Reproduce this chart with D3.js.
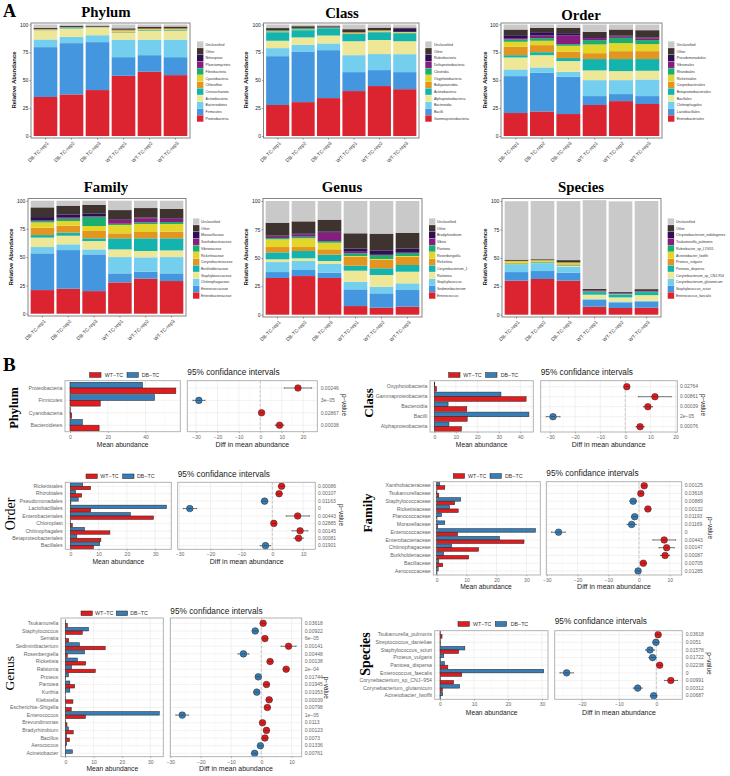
<!DOCTYPE html>
<html>
<head>
<meta charset="utf-8">
<script src="https://cdn.jsdelivr.net/npm/d3@7"></script>
<style>
html,body{margin:0;padding:0;background:#fff;}
svg{display:block;}
text{font-family:"Liberation Sans",Arial,sans-serif;}
</style>
</head>
<body>
<svg id="chart" width="730" height="776"></svg>
<script>
// ---------- DATA: panel A (stacked relative abundance, bottom series first) ----------
const sampleLabels = ["DB-TC-rep1","DB-TC-rep2","DB-TC-rep3","WT-TC-rep1","WT-TC-rep2","WT-TC-rep3"];
const abundanceTicks = [0,25,50,75,100];

const phylumTaxa = ["Proteobacteria","Firmicutes","Bacteroidetes","Actinobacteria","Crenarchaeota","Chloroflexi","Cyanobacteria","Fibrobacteria","Planctomycetes","Nitrospirae","Other","Unclassified"];
const phylumValues = [
 [35,44.7,6.9,8.1,.2,.6,.2,.1,.1,.1,1,3],
 [37.3,46,5.7,7.4,.9,.1,.1,.1,.1,.1,1.1,1.2],
 [41.2,43,6.2,6.9,.2,.1,.1,.1,.1,.1,.9,1.2],
 [54,16.7,15.8,6,.4,.8,1,.2,.2,.3,1.2,3.4],
 [57.6,14.9,14,7.8,.6,.6,.6,.1,.1,.1,1.7,1.9],
 [54.6,16.1,15.8,7.8,.6,.7,.6,.1,.1,.1,1.7,1.8]];

const classTaxa = ["Gammaproteobacteria","Bacilli","Bacteroidia","Alphaproteobacteria","Actinobacteria","Babyanaerobia","Oxyphotobacteria","Clostridia","Deltaproteobacteria","Rubrobacteria","Other","Unclassified"];
const classValues = [
 [27.8,43.8,7.2,6.6,7.7,.1,.6,.8,.1,.2,1.9,3.2],
 [30.4,45.4,6,6.6,6.5,.1,.5,1.2,.1,.1,1.6,1.5],
 [34,43,6,7.1,6.6,.1,.2,.1,.1,.2,1.1,1.5],
 [40.3,17,15.2,12.5,6.6,.6,.6,.1,.1,.2,2.6,4.2],
 [44.8,14.3,14.4,12.6,7,.6,.7,.3,.1,.1,2.3,2.8],
 [42,15.3,16.1,11.6,7.2,.5,.5,.1,.1,2.7,1.2,2.7]];

const orderTaxa = ["Enterobacteriales","Lactobacillales","Chitinophagales","Bacillales","Betaproteobacteriales","Corynebacteriales","Rickettsiales","Rhizobiales","Vibrionales","Pseudomonadales","Other","Unclassified"];
const orderValues = [
 [20.6,33.1,6,10.7,2.1,7.5,4.5,2.1,1.2,2.6,5.1,4.5],
 [22,34.7,4.8,11,2.7,6.3,3.9,2.4,2.3,3,3.9,3],
 [19.7,33.4,4.5,9.6,2.7,5.6,5.4,1.5,7.7,2.1,4.8,3],
 [27.8,8,14.3,8.7,10.2,5.3,7.8,3.9,1.8,.9,4.7,6.6],
 [31.3,6.3,12.5,8.1,10.8,7.1,7.2,4.7,1.2,.7,5.6,4.5],
 [28.7,7.1,14.9,7.8,10.5,7.1,6.3,3.6,1.5,.9,6.5,5.1]];

const familyTaxa = ["Enterobacteriaceae","Enterococcaceae","Chitinophagaceae","Staphylococcaceae","Burkholderiaceae","Corynebacteriaceae","Rickettsiaceae","Vibrionaceae","Xanthobacteraceae","Moraxellaceae","Other","Unclassified"];
const familyValues = [
 [20.9,32.5,5.6,8.3,2.3,6.5,4.7,1.2,.6,2.9,8.6,5.9],
 [22.1,34.2,5.1,7.6,2.7,6.2,4.1,2.1,.9,2.9,7.7,4.4],
 [20,32.5,4.4,7.4,2.4,6.5,4.4,8.2,.6,2.4,7.4,3.8],
 [27.7,8,14.4,6.8,9.8,4.4,7.4,1.1,3.3,.6,8.2,8.3],
 [31,6.2,12.7,5.6,11.2,5.6,7.1,1.4,3.6,.6,8.5,6.5],
 [28.9,6.8,14.4,5.9,10.7,5.9,6.8,1.7,2.7,.6,8.5,7.1]];

const genusTaxa = ["Enterococcus","Sediminibacterium","Staphylococcus","Ralstonia","Corynebacterium_1","Rickettsia","Rosenbergiella","Pantoea","Vibrio","Bradyrhizobium","Other","Unclassified"];
const genusValues = [
 [32.3,5.2,8.8,2.4,6.1,4.7,6.8,1.1,1.2,.9,11.4,19.1],
 [34,5.3,7.9,2.4,6.4,3.5,7.7,1.4,1.8,1.2,10.5,17.9],
 [32.3,4.7,7.6,2.6,5.6,4.7,5.8,1.5,7.3,1.2,10.3,16.4],
 [7.6,14.7,6.7,9.7,4.4,7.9,.6,2.4,1.4,2.7,13.5,28.4],
 [6.2,12.6,5.8,10.3,5.9,7.6,.6,3.5,.9,3.2,14.7,28.7],
 [7,14.7,5.9,10.2,5.9,7.3,.6,2.7,.8,3,14,27.9]];

const speciesTaxa = ["Enterococcus_faecalis","Staphylococcus_sciuri","Corynebacterium_glutamicum","Corynebacterium_sp_CNJ-954","Pantoea_dispersa","Proteus_vulgaris","Acinetobacter_lwoffii","Rubrobacter_sp_LYG55","Tsukamurella_pulmonis","Chryseobacterium_indologenes","Other","Unclassified"];
const speciesValues = [
 [29.9,7.6,6.2,.5,.7,.7,1.5,.1,.1,.1,1,51.4],
 [31.4,7,6.2,.5,1,.6,1.1,.1,.1,.1,.7,51.2],
 [29.9,7,5.3,.6,.6,.9,1.5,.1,.1,.1,1.9,51.9],
 [7,6.2,.6,3.8,2.3,.2,.1,.2,.3,.5,1.5,78],
 [5.9,5,.7,3.6,2.7,.2,.1,.2,.4,.4,.9,79.6],
 [6.2,5.5,.6,4.9,2.7,.2,.1,.1,.2,.4,1.6,77.5]];

// ---------- DATA: panel B (mean abundance and difference in means) ----------
const phylumBTaxa = ["Proteobacteria","Firmicutes","Cyanobacteria","Bacteroidetes"];
const phylumBDb = [38.3,44.7,.2,6.5];
const phylumBWt = [56,16,.9,15.4];
const phylumBDiff = [17.6,-28.7,.6,9];
const phylumBLow = [11.2,-31.5,-.2,7];
const phylumBHigh = [24,-25.8,1.4,11];
const phylumBP = ["0.00246","3e−05","0.02867","0.00038"];

const classBTaxa = ["Oxyphotobacteria","Gammaproteobacteria","Bacteroidia","Bacilli","Alphaproteobacteria"];
const classBDb = [.2,31,6.4,44,6.8];
const classBWt = [1,42.7,15.1,15.3,12.6];
const classBDiff = [.6,11.8,9,-28.8,5.9];
const classBLow = [-.2,5.2,7.2,-31.5,4.3];
const classBHigh = [1.4,18.3,10.8,-26,7.5];
const classBP = ["0.02764","0.00861","0.00039","2e−05","0.00076"];

const orderBTaxa = ["Rickettsiales","Rhizobiales","Pseudomonadales","Lactobacillales","Enterobacteriales","Chloroplast","Chitinophagales","Betaproteobacteriales","Bacillales"];
const orderBDb = [4.4,1.9,2.8,34,21.2,.1,5,2.3,10.4];
const orderBWt = [7.2,4,.2,7.2,29.4,.7,14,10.8,8.2];
const orderBDiff = [3,2.2,-2.5,-26.7,8.2,.5,9,8.5,-2.2];
const orderBLow = [2,1.2,-3.6,-28.8,4.5,-.2,6.4,7,-3.9];
const orderBHigh = [4,3.2,-1.4,-24.5,12,1.2,11.5,10,-.5];
const orderBP = ["0.00086","0.00107","0.01163","0","0.00443","0.02885","0.00145","0.00081","0.01901"];

const familyBTaxa = ["Xanthobacteraceae","Tsukamurellaceae","Staphylococcaceae","Rickettsiaceae","Planococcaceae","Moraxellaceae","Enterococcaceae","Enterobacteriaceae","Chitinophagaceae","Burkholderiaceae","Bacillaceae","Aerococcaceae"];
const familyBDb = [1,.1,8,4.3,1.6,2.7,33,21,5,2.3,.7,.5];
const familyBWt = [2.7,.7,6,7.2,.1,.3,7,29.2,14,10.7,2,.1];
const familyBDiff = [1.7,.6,-1.9,2.9,-1.4,-2.4,-26.2,8.2,9,8.5,1.4,-.3];
const familyBLow = [.9,-.1,-3,1.9,-2.4,-3.9,-28.5,4.5,6.5,7,.4,-1];
const familyBHigh = [2.5,1.3,-.8,3.9,-.4,-.9,-24,11.9,11.5,10,2.4,.4];
const familyBP = ["0.00125","0.03618","0.00889","0.00132","0.01193","0.01169","0","0.00443","0.00147","0.00087","0.00705","0.01285"];

const genusBTaxa = ["Tsukamurella","Staphylococcus","Serratia","Sediminibacterium","Rosenbergiella","Rickettsia","Ralstonia","Proteus","Pantoea","Kurthia","Klebsiella","Escherichia−Shigella","Enterococcus","Brevundimonas","Bradyrhizobium","Bacillus","Aerococcus","Acinetobacter"];
const genusBDb = [.1,8.2,.1,5,6.8,4.3,2.2,1.1,1.6,1.6,.1,.1,33.2,.1,1.1,.4,.5,2.5];
const genusBWt = [.7,6,1.2,14.1,.7,7.2,10.6,.1,3.3,.1,2.7,2.1,7.1,.6,2.8,1.5,.1,.1];
const genusBDiff = [.6,-2,1.2,9,-5.9,2.9,8.2,-1,1.7,-1.5,2.6,2,-26.1,.4,1.7,1.2,-.3,-2.2];
const genusBLow = [-.1,-3,.5,6.5,-7.7,1.9,7.2,-1.9,.7,-2.4,1.6,1,-28.2,-.4,.8,.2,-1.2,-3.2];
const genusBHigh = [1.3,-1,1.9,11.5,-4.1,3.9,9.2,-.1,2.7,-.6,3.6,3,-24,1.2,2.6,2.2,.6,-1.2];
const genusBP = ["0.03618","0.00922","6e−05","0.00141","0.00448","0.00138","2e−04","0.01744","0.01945","0.01053","0.00039","0.00798","1e−05","0.0113","0.00123","0.0073","0.01336","0.00761"];

const speciesBTaxa = ["Tsukamurella_pulmonis","Streptococcus_danieliae","Staphylococcus_sciuri","Proteus_vulgaris","Pantoea_dispersa","Enterococcus_faecalis","Corynebacterium_sp_CNJ−954","Corynebacterium_glutamicum","Acinetobacter_lwoffii"];
const speciesBDb = [.1,.1,7.3,1.1,1.3,30.5,.1,5.8,.8];
const speciesBWt = [.6,.1,5.5,.1,2.3,6.4,4,.7,.1];
const speciesBDiff = [.5,-.1,-1.7,-1,.9,-24.1,3.9,-5,-.7];
const speciesBLow = [-.2,-.9,-2.9,-2,.1,-25.9,2.2,-6.2,-1.6];
const speciesBHigh = [1.2,.7,-.5,0,1.7,-22.3,5.7,-3.8,.2];
const speciesBP = ["0.03618","0.0051","0.01578","0.01722","0.02238","0","0.00991","0.00312","0.00687"];

// ---------- STYLE ----------
const stackColors = ["#DC2430","#4496DE","#74CEEE","#EEE896","#14B4AE","#E2951F","#E3D62A","#1BAE6F","#871D7E","#2E0F55","#3E332F","#C9C9C9"];
const wtColor = "#E41A1C", dbColor = "#377EB8";
const serif = '"Liberation Serif","Times New Roman",serif';
const svg = d3.select("#chart");

function txt(x,y,s,size,opt={}){
  const t = svg.append("text").attr("x",x).attr("y",y).text(s)
    .attr("font-size",size).attr("fill",opt.fill||"#000")
    .attr("text-anchor",opt.anchor||"start");
  if(opt.bold) t.attr("font-weight","bold");
  if(opt.serif) t.style("font-family",serif);
  if(opt.rot!==undefined) t.attr("transform",`rotate(${opt.rot} ${x} ${y})`);
  return t;
}

txt(3,16.5,"A",18,{bold:true,serif:true});
txt(3,371,"B",19,{bold:true,serif:true});

// ---------- PANEL A ----------
const stackPanels = [
 {title:"Phylum",taxa:phylumTaxa,values:phylumValues,l:31,r:190,t:23,b:138,y100:24.5,y0:136,tx:106,ty:17,yt:16,ycy:80,lsw:197,ltx:205.6,lt:44.7},
 {title:"Class",taxa:classTaxa,values:classValues,l:263.5,r:419,t:23,b:138,y100:24.5,y0:136,tx:342,ty:18,yt:248,ycy:80,lsw:425.3,ltx:434,lt:44.7},
 {title:"Order",taxa:orderTaxa,values:orderValues,l:501,r:662,t:23,b:138,y100:24.5,y0:136,tx:581,ty:20,yt:487,ycy:80,lsw:668,ltx:676.7,lt:44.7},
 {title:"Family",taxa:familyTaxa,values:familyValues,l:28,r:186,t:198.5,b:316,y100:200.7,y0:313.7,tx:106,ty:192,yt:13,ycy:257,lsw:193,ltx:201,lt:221.7},
 {title:"Genus",taxa:genusTaxa,values:genusValues,l:263,r:422,t:198.5,b:317,y100:201,y0:314.7,tx:342,ty:192,yt:248,ycy:257,lsw:429,ltx:437,lt:221.7},
 {title:"Species",taxa:speciesTaxa,values:speciesValues,l:502,r:661,t:198.5,b:317,y100:201,y0:314.7,tx:581,ty:192,yt:487,ycy:257,lsw:667.7,ltx:676,lt:221.7}
];

stackPanels.forEach(p=>{
  const x = d3.scaleBand().domain(sampleLabels).range([p.l+1.5,p.r-1.5]).paddingInner(0.09).paddingOuter(0.045);
  const y = d3.scaleLinear().domain([0,100]).range([p.y0,p.y100]);
  const keys = d3.range(p.taxa.length);
  const series = d3.stack().keys(keys).value((row,k)=>row[k])(p.values);
  series.forEach((s,k)=>{
    svg.append("g").selectAll("rect").data(s).join("rect")
      .attr("x",(d,i)=>x(sampleLabels[i])).attr("width",x.bandwidth())
      .attr("y",d=>y(d[1])).attr("height",d=>Math.max(0,y(d[0])-y(d[1])))
      .attr("fill",stackColors[k]);
  });
  svg.append("rect").attr("x",p.l).attr("y",p.t).attr("width",p.r-p.l).attr("height",p.b-p.t)
    .attr("fill","none").attr("stroke","#858585").attr("stroke-width",1);

  const ay = svg.append("g").attr("transform",`translate(${p.l},0)`)
    .call(d3.axisLeft(y).tickValues(abundanceTicks).tickSize(1.6).tickPadding(1));
  ay.select(".domain").remove();
  ay.selectAll("line").attr("stroke","#444").attr("stroke-width",.5);
  ay.selectAll("text").attr("font-size",5).attr("fill","#222").style("font-family",'"Liberation Sans",Arial');

  const ax = svg.append("g").attr("transform",`translate(0,${p.b})`)
    .call(d3.axisBottom(x).tickSize(1.6).tickPadding(2));
  ax.select(".domain").remove();
  ax.selectAll("line").attr("stroke","#444").attr("stroke-width",.5);
  ax.selectAll("text").attr("font-size",5).attr("fill","#333").style("font-family",'"Liberation Sans",Arial')
    .attr("text-anchor","end").attr("dy",0).attr("transform","translate(1,3) rotate(-45)");

  txt(p.tx,p.ty,p.title,14.8,{bold:true,serif:true,anchor:"middle"});
  txt(p.yt,p.ycy,"Relative Abundance",6,{bold:true,anchor:"middle",rot:-90,fill:"#111"});

  const rows = [...p.taxa].reverse();
  const ly = d3.scalePoint().domain(rows).range([p.lt,p.lt+11*6.72]);
  rows.forEach((name)=>{
    const k = p.taxa.indexOf(name);
    svg.append("rect").attr("x",p.lsw).attr("y",ly(name)-3.3).attr("width",6.4).attr("height",6.4).attr("fill",stackColors[k]);
    txt(p.ltx,ly(name)+1.3,name,3.5,{fill:"#333"});
  });
});

// ---------- PANEL B ----------
const diffPanels = [
 {label:"Phylum",taxa:phylumBTaxa,db:phylumBDb,wt:phylumBWt,diff:phylumBDiff,lo:phylumBLow,hi:phylumBHigh,pv:phylumBP,
  top:380.7,bot:431.7,c0:388,step:12.4,
  bl:65,br:180.3,bz:70,bu:1.89,bticks:[0,20,40],
  dl:187.3,dr:317.3,dz:260.3,du:2.14,dticks:[-30,-20,-10,0,10,20],
  px:320.7,pvx:342,pvy:405,lx:17.5,ly:408,lbold:true,lsize:12.5,
  sw1:89.7,t1:104.7,sw2:127,t2:141.7,legy:375,ty:375,mx:122.7,dx:252.3,axy:446.7,ticky:438},
 {label:"Class",taxa:classBTaxa,db:classBDb,wt:classBWt,diff:classBDiff,lo:classBLow,hi:classBHigh,pv:classBP,
  top:380.7,bot:432,c0:386.7,step:10,
  bl:430,br:533.3,bz:434.3,bu:2.15,bticks:[0,10,20,30,40],
  dl:540.7,dr:677.3,dz:625.3,du:2.51,dticks:[-30,-20,-10,0,10,20],
  px:680,pvx:701,pvy:405,lx:373,ly:403,lbold:true,lsize:13,
  sw1:448.7,t1:463.3,sw2:485.7,t2:500.7,legy:375,ty:375,mx:481.7,dx:608.7,axy:446.7,ticky:438},
 {label:"Order",taxa:orderBTaxa,db:orderBDb,wt:orderBWt,diff:orderBDiff,lo:orderBLow,hi:orderBHigh,pv:orderBP,
  top:482.3,bot:549.3,c0:486.3,step:7.42,
  bl:65.3,br:171.3,bz:70.3,bu:2.83,bticks:[0,10,20,30],
  dl:177.7,dr:315.3,dz:272.3,du:3.09,dticks:[-30,-20,-10,0,10],
  px:318,pvx:339,pvy:515,lx:15,ly:514,lbold:false,lsize:14,
  sw1:86,t1:100.3,sw2:122.7,t2:137,legy:476.3,ty:476.7,mx:118.3,dx:246.7,axy:563.7,ticky:555},
 {label:"Family",taxa:familyBTaxa,db:familyBDb,wt:familyBWt,diff:familyBDiff,lo:familyBLow,hi:familyBHigh,pv:familyBP,
  top:481.7,bot:575,c0:485.7,step:7.75,
  bl:433.3,br:540.3,bz:436.7,bu:2.99,bticks:[0,10,20,30],
  dl:546.3,dr:681.7,dz:639,du:3.07,dticks:[-30,-20,-10,0,10],
  px:684.7,pvx:708,pvy:528,lx:372,ly:513,lbold:true,lsize:13,
  sw1:453.3,t1:468,sw2:490,t2:505,legy:476,ty:476,mx:486,dx:614,axy:589.3,ticky:580.7},
 {label:"Genus",taxa:genusBTaxa,db:genusBDb,wt:genusBWt,diff:genusBDiff,lo:genusBLow,hi:genusBHigh,pv:genusBP,
  top:618,bot:756.7,c0:623.3,step:7.65,
  bl:61,br:163.3,bz:65.3,bu:2.83,bticks:[0,10,20,30],
  dl:170.3,dr:301.7,dz:261.3,du:3.03,dticks:[-30,-20,-10,0,10],
  px:304.7,pvx:324,pvy:687.7,lx:14.3,ly:673.3,lbold:false,lsize:13.5,
  sw1:81,t1:95,sw2:116.3,t2:130.3,legy:613.3,ty:613.7,mx:112.3,dx:236,axy:771,ticky:762.7},
 {label:"Species",taxa:speciesBTaxa,db:speciesBDb,wt:speciesBWt,diff:speciesBDiff,lo:speciesBLow,hi:speciesBHigh,pv:speciesBP,
  top:630.7,bot:699.3,c0:634.7,step:7.63,
  bl:434.7,br:548,bz:440,bu:3.4,bticks:[0,10,20,30],
  dl:554.7,dr:682.3,dz:656.3,du:3.72,dticks:[-20,-10,0],
  px:685.7,pvx:707,pvy:663.3,lx:370,ly:654,lbold:true,lsize:14,
  sw1:458,t1:473,sw2:495.3,t2:510.7,legy:624,ty:624.3,mx:491.7,dx:619,axy:715,ticky:705}
];

function frameGrid(l,r,t,b,xs,ticks,rowY){
  const g = svg.append("g");
  const minor = d3.pairs(ticks).map(([a,c])=>(a+c)/2);
  minor.push(ticks[ticks.length-1]+(ticks[1]-ticks[0])/2);
  minor.unshift(ticks[0]-(ticks[1]-ticks[0])/2);
  g.selectAll(".mn").data(minor.filter(v=>xs(v)>l&&xs(v)<r)).join("line")
    .attr("x1",xs).attr("x2",xs).attr("y1",t).attr("y2",b).attr("stroke","#f2f2f2").attr("stroke-width",.4);
  g.selectAll(".mj").data(ticks).join("line")
    .attr("x1",xs).attr("x2",xs).attr("y1",t).attr("y2",b).attr("stroke","#e6e6e6").attr("stroke-width",.6);
  g.selectAll(".rw").data(rowY).join("line")
    .attr("x1",l).attr("x2",r).attr("y1",d=>d).attr("y2",d=>d).attr("stroke","#e9e9e9").attr("stroke-width",.6);
}
function frameBox(l,r,t,b){
  svg.append("rect").attr("x",l).attr("y",t).attr("width",r-l).attr("height",b-t)
    .attr("fill","none").attr("stroke","#ababab").attr("stroke-width",.9);
}
function xAxis(xs,ticks,b,ticky){
  const a = svg.append("g").attr("transform",`translate(0,${b})`)
    .call(d3.axisBottom(xs).tickValues(ticks).tickSize(1.4).tickPadding(ticky-b-3.6).tickFormat(d3.format("d")));
  a.select(".domain").remove();
  a.selectAll("line").attr("stroke","#777").attr("stroke-width",.5);
  a.selectAll("text").attr("font-size",5).attr("fill","#666").style("font-family",'"Liberation Sans",Arial').attr("dy","0.71em");
}

diffPanels.forEach(p=>{
  const n = p.taxa.length;
  const yb = d3.scaleBand().domain(p.taxa).range([p.c0-p.step/2,p.c0+(n-.5)*p.step]);
  const rowY = p.taxa.map(d=>yb(d)+yb.bandwidth()/2);
  const barH = p.step*0.46;

  // bar side
  const xb = d3.scaleLinear().domain([(p.bl-p.bz)/p.bu,(p.br-p.bz)/p.bu]).range([p.bl,p.br]);
  frameGrid(p.bl,p.br,p.top,p.bot,xb,p.bticks,rowY);
  svg.append("g").selectAll("rect").data(p.taxa).join("rect")
    .attr("x",xb(0)).attr("y",d=>yb(d)+yb.bandwidth()/2-barH)
    .attr("width",(d,i)=>xb(p.db[i])-xb(0)).attr("height",barH)
    .attr("fill",dbColor).attr("stroke","#2b2b2b").attr("stroke-width",.55);
  svg.append("g").selectAll("rect").data(p.taxa).join("rect")
    .attr("x",xb(0)).attr("y",d=>yb(d)+yb.bandwidth()/2)
    .attr("width",(d,i)=>xb(p.wt[i])-xb(0)).attr("height",barH)
    .attr("fill",wtColor).attr("stroke","#2b2b2b").attr("stroke-width",.55);
  frameBox(p.bl,p.br,p.top,p.bot);
  xAxis(xb,p.bticks,p.bot,p.ticky);
  svg.append("g").selectAll("text").data(p.taxa).join("text")
    .attr("x",p.bl-2.7).attr("y",d=>yb(d)+yb.bandwidth()/2+1.7).text(d=>d)
    .attr("text-anchor","end").attr("font-size",5.2).attr("fill","#666");

  // CI side
  const xd = d3.scaleLinear().domain([(p.dl-p.dz)/p.du,(p.dr-p.dz)/p.du]).range([p.dl,p.dr]);
  frameGrid(p.dl,p.dr,p.top,p.bot,xd,p.dticks,rowY);
  svg.append("line").attr("x1",xd(0)).attr("x2",xd(0)).attr("y1",p.top).attr("y2",p.bot)
    .attr("stroke","#b5b5b5").attr("stroke-width",.7).attr("stroke-dasharray","3 1.6");
  const g = svg.append("g");
  g.selectAll(".ci").data(p.taxa).join("line")
    .attr("x1",(d,i)=>xd(p.lo[i])).attr("x2",(d,i)=>xd(p.hi[i]))
    .attr("y1",(d,i)=>rowY[i]).attr("y2",(d,i)=>rowY[i]).attr("stroke","#222").attr("stroke-width",.6);
  g.selectAll(".cl").data(p.taxa).join("line")
    .attr("x1",(d,i)=>xd(p.lo[i])).attr("x2",(d,i)=>xd(p.lo[i]))
    .attr("y1",(d,i)=>rowY[i]-.7).attr("y2",(d,i)=>rowY[i]+.7).attr("stroke","#222").attr("stroke-width",.5);
  g.selectAll(".ch").data(p.taxa).join("line")
    .attr("x1",(d,i)=>xd(p.hi[i])).attr("x2",(d,i)=>xd(p.hi[i]))
    .attr("y1",(d,i)=>rowY[i]-.7).attr("y2",(d,i)=>rowY[i]+.7).attr("stroke","#222").attr("stroke-width",.5);
  g.selectAll("circle").data(p.taxa).join("circle")
    .attr("cx",(d,i)=>xd(p.diff[i])).attr("cy",(d,i)=>rowY[i]).attr("r",3.3)
    .attr("fill",(d,i)=>p.diff[i]>=0?wtColor:dbColor).attr("stroke","#222").attr("stroke-width",.5);
  g.selectAll(".mid").data(p.taxa).join("line")
    .attr("x1",(d,i)=>xd(p.diff[i])-2).attr("x2",(d,i)=>xd(p.diff[i])+2)
    .attr("y1",(d,i)=>rowY[i]).attr("y2",(d,i)=>rowY[i]).attr("stroke","#222").attr("stroke-width",.5);
  frameBox(p.dl,p.dr,p.top,p.bot);
  xAxis(xd,p.dticks,p.bot,p.ticky);
  svg.append("g").selectAll("text").data(p.pv).join("text")
    .attr("x",p.px).attr("y",(d,i)=>rowY[i]+1.7).text(d=>d).attr("font-size",5).attr("fill","#666");

  // annotations
  txt(p.pvx,p.pvy,"p−value",6.3,{anchor:"middle",rot:90,fill:"#222"});
  txt(p.lx,p.ly,p.label,p.lsize,{anchor:"middle",rot:-90,serif:true,bold:p.lbold});
  svg.append("rect").attr("x",p.sw1).attr("y",p.legy-2.3).attr("width",11.3).attr("height",4.6).attr("fill",wtColor).attr("stroke","#2b2b2b").attr("stroke-width",.55);
  txt(p.t1,p.legy+1.8,"WT−TC",5.3,{fill:"#333"});
  svg.append("rect").attr("x",p.sw2).attr("y",p.legy-2.3).attr("width",11.3).attr("height",4.6).attr("fill",dbColor).attr("stroke","#2b2b2b").attr("stroke-width",.55);
  txt(p.t2,p.legy+1.8,"DB−TC",5.3,{fill:"#333"});
  txt(p.dl,p.ty,"95% confidance intervals",8.3,{fill:"#222"});
  txt(p.mx,p.axy,"Mean abundance",6.7,{anchor:"middle",fill:"#222"});
  txt(p.dx,p.axy,"Diff in mean abundance",7,{anchor:"middle",fill:"#222"});
});
</script>
</body>
</html>
